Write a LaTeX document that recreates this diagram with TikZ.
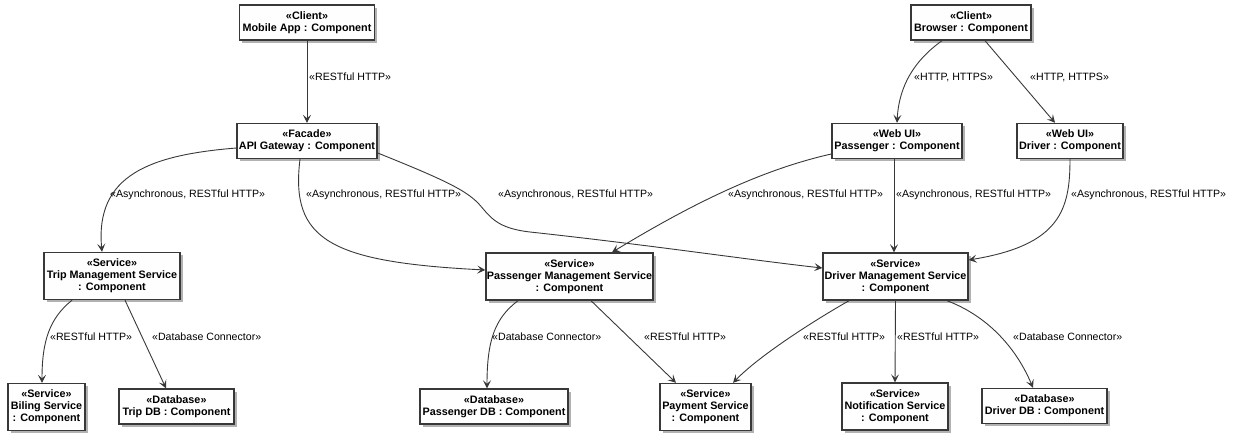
\documentclass[tikz,border=0pt]{standalone}
\usepackage{fontspec}
\setmainfont{Liberation Sans}
\usetikzlibrary{arrows.meta,shadows,calc}
\definecolor{linec}{HTML}{383838}
\definecolor{boxfill}{HTML}{FEFEFE}
\begin{document}
\begin{tikzpicture}[x=1pt,y=1pt,
  box/.style={draw=linec, line width=1.4pt, fill=boxfill, align=center, inner sep=0pt,
    font=\bfseries\fontsize{10.8}{12}\selectfont,
    drop shadow={shadow xshift=2.5pt, shadow yshift=-2.5pt, fill=black, opacity=0.3}},
  one/.style={minimum height=35pt},
  two/.style={minimum height=47pt},
  lbl/.style={anchor=west, inner sep=0pt, font=\fontsize{10.6}{12}\selectfont},
  arr/.style={draw=linec, line width=0.9pt, -{Stealth[length=8pt,width=8pt,inset=3.5pt]}}]
\useasboundingbox (0,0) rectangle (1234,-437);

% nodes
\node[box, one, minimum width=135pt] (m) at (307,-22.5) {«Client»\\Mobile App : Component};
\node[box, one, minimum width=140pt] (api) at (307,-141) {«Facade»\\API Gateway : Component};
\node[box, one, minimum width=120pt] (br) at (971,-22.5) {«Client»\\Browser : Component};
\node[box, one, minimum width=130pt] (pui) at (897,-141) {«Web UI»\\Passenger : Component};
\node[box, one, minimum width=106pt] (dui) at (1070,-141) {«Web UI»\\Driver : Component};
\node[box, two, minimum width=136pt] (tms) at (112,-276) {«Service»\\Trip Management Service\\: Component};
\node[box, two, minimum width=167pt] (pms) at (569.5,-276.5) {«Service»\\Passenger Management Service\\: Component};
\node[box, two, minimum width=145pt] (dms) at (895.5,-276.5) {«Service»\\Driver Management Service\\: Component};
\node[box, two, minimum width=77pt] (bil) at (46.5,-407) {«Service»\\Biling Service\\: Component};
\node[box, one, minimum width=115pt] (tdb) at (176.5,-406.5) {«Database»\\Trip DB : Component};
\node[box, one, minimum width=148pt] (pdb) at (494,-406.5) {«Database»\\Passenger DB : Component};
\node[box, two, minimum width=91pt] (pay) at (705.5,-407) {«Service»\\Payment Service\\: Component};
\node[box, two, minimum width=106pt] (ntf) at (895,-406.5) {«Service»\\Notification Service\\: Component};
\node[box, one, minimum width=125pt] (ddb) at (1044.5,-406) {«Database»\\Driver DB : Component};

% connectors
\draw[arr] (m.south) -- (api.north);
\draw[arr] ($(br.south)+(-29,0)$) .. controls (915,-60) and (899,-85) .. (pui.north);
\draw[arr] ($(br.south)+(14,0)$) -- ($(dui.north)+(-15,0)$);
\draw[arr] ($(api.west)+(0,-7)$) .. controls (150,-155) and (95,-175) .. ($(tms.north)+(-10,0)$);
\draw[arr] ($(api.south)+(-7,0)$) .. controls (290,-240) and (330,-262) .. ($(pms.west)+(0,6.5)$);
\draw[arr] ($(api.east)+(0,-12)$) .. controls (445,-180) and (465,-190) .. (478,-203)
  .. controls (490,-216) and (495,-228) .. (530,-232)
  .. controls (650,-245) and (750,-260) .. ($(dms.west)+(0,8.5)$);
\draw[arr] ($(pui.west)+(0,-13)$) .. controls (760,-170) and (690,-205) .. ($(pms.north)+(42.5,0)$);
\draw[arr] ($(pui.south)+(-3,0)$) -- ($(dms.north)+(-1.5,0)$);
\draw[arr] (dui.south) .. controls (1070,-210) and (1060,-245) .. ($(dms.east)+(0,16.5)$);
\draw[arr] ($(tms.south)+(-40,0)$) .. controls (50,-318) and (42,-340) .. ($(bil.north)+(-4.5,0)$);
\draw[arr] ($(tms.south)+(13,0)$) -- ($(tdb.north)+(-10.5,0)$);
\draw[arr] ($(pms.south)+(-51.5,0)$) .. controls (495,-318) and (487,-340) .. ($(pdb.north)+(-7,0)$);
\draw[arr] ($(pms.south)+(21.5,0)$) -- ($(pay.north)+(-29.5,0)$);
\draw[arr] ($(dms.south)+(-46.5,0)$) .. controls (815,-320) and (760,-355) .. ($(pay.north)+(27.5,0)$);
\draw[arr] (dms.south) -- (ntf.north);
\draw[arr] ($(dms.south)+(51.5,0)$) .. controls (985,-315) and (1015,-345) .. ($(ddb.north)+(-11.5,0)$);

% labels
\node[lbl] (l1) at (309,-77) {«RESTful HTTP»};
\node[lbl] (l2) at (914,-77) {«HTTP, HTTPS»};
\node[lbl] (l3) at (1030,-77) {«HTTP, HTTPS»};
\node[lbl] (l4) at (110,-195) {«Asynchronous, RESTful HTTP»};
\node[lbl] (l5) at (306,-195) {«Asynchronous, RESTful HTTP»};
\node[lbl] (l6) at (498,-195) {«Asynchronous, RESTful HTTP»};
\node[lbl] (l7) at (728,-195) {«Asynchronous, RESTful HTTP»};
\node[lbl] (l8) at (896,-195) {«Asynchronous, RESTful HTTP»};
\node[lbl] (l9) at (1071,-195) {«Asynchronous, RESTful HTTP»};
\node[lbl] (l10) at (50,-337) {«RESTful HTTP»};
\node[lbl] (l11) at (152,-337) {«Database Connector»};
\node[lbl] (l12) at (492,-337) {«Database Connector»};
\node[lbl] (l13) at (644,-337) {«RESTful HTTP»};
\node[lbl] (l14) at (803,-337) {«RESTful HTTP»};
\node[lbl] (l15) at (897,-337) {«RESTful HTTP»};
\node[lbl] (l16) at (1013,-337) {«Database Connector»};
\end{tikzpicture}
\end{document}
